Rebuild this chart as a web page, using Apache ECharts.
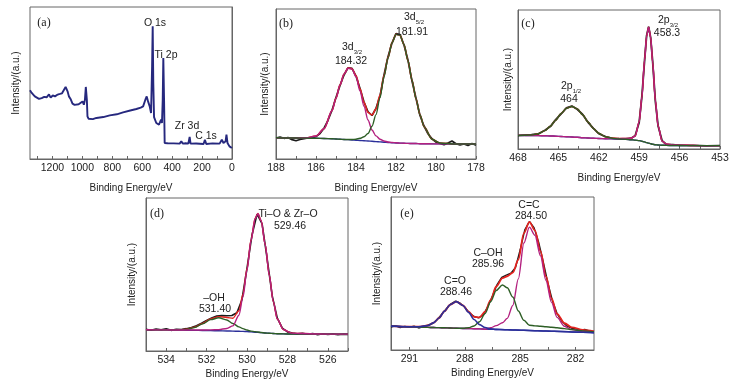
<!DOCTYPE html>
<html><head><meta charset="utf-8">
<script src="https://cdn.jsdelivr.net/npm/echarts@6/dist/echarts.min.js"></script>
<style>html,body{margin:0;padding:0;background:#fff}#c{width:734px;height:383px}</style>
</head><body><div id="c"></div>
<script>
// ---------- panel (a) survey ----------
const aBE = [1350,1340,1328,1318,1306,1290,1272,1255,1239,1223,1212,1198,1183,1165,1150,1136,1123,1112,1106,1099,1090,1079,1066,1052,1039,1025,1012,999,990,983,977,970,966,959,930,906,860,817,770,728,680,639,610,594,579,570,561,550,541,534,530,526,521,506,488,474,468,463,459,454,450,430,417,390,350,339,328,310,292,283,277,240,190,181,172,130,83,68,57,43,37,30,17,1];
const aInt = [45.2,43.6,42.8,41.2,40.8,39.6,40.1,40.9,40.6,42.5,40.4,41.8,41.2,42.4,42.8,43.2,43.9,47.4,48.5,44.5,41.2,39.5,36.4,35.6,35.1,36.0,36.4,37.9,35.7,39.0,47.4,39.0,28.1,26.5,26.2,27.0,27.6,28.7,29.4,30.7,31.9,32.9,33.8,34.6,39.0,41.2,37.9,34.6,30.3,61,87.3,50,27.6,23.7,22.6,25.9,23.7,39,66.4,39,10.5,10.4,10.1,10.3,10.1,11.6,10.1,10.4,10.1,14.5,10.1,10.2,9.9,12.7,9.9,10.3,10.1,12.7,10.5,11.6,16,10.5,8.3,7.2];
const aTicks = [0,100,200,300,400,500,600,700,800,900,1000,1100,1200,1300];
const aLabels = [0,200,400,600,800,1000,1200];

// ---------- panel (b) Zr 3d ----------
const bBE = [188,187,186.5,186,185.6,185.2,185,184.8,184.6,184.4,184.2,184,183.8,183.6,183.4,183.2,183,182.8,182.6,182.4,182.2,182,181.8,181.6,181.4,181.2,181,180.8,180.6,180.2,179.8,179,178];
const bBg = [14.2,14.0,13.9,13.8,13.7,13.5,13.3,13.2,13.0,12.9,12.7,12.5,12.3,12.2,12.0,11.8,11.6,11.4,11.2,11.0,10.8,10.7,10.6,10.5,10.4,10.3,10.3,10.2,10.2,10.1,10.1,10.0,10.0];
const b32 = [14.2,14.0,14.0,15.3,20.2,32.2,40.6,49.4,56.6,60.5,59.9,54.9,45.3,35.2,26.0,19.3,15.4,13.2,12.0,11.3,11.0,10.8,10.6,10.5,10.4,10.3,10.3,10.2,10.2,10.1,10.1,10.0,10.0];
const b52 = [14.2,14.0,13.9,13.8,13.7,13.5,13.3,13.2,13.0,13.0,13.0,13.2,13.8,14.8,17.0,21.8,29.6,40.9,54.8,67.3,77.5,83.1,82.6,76.3,65.5,52.6,40.1,29.5,21.6,13.2,10.7,10.0,10.0];
const bEnv = [14.2,14.0,14.0,15.3,20.2,32.2,40.6,49.4,56.6,60.6,60.2,55.6,46.8,37.8,31.0,29.3,33.4,42.7,55.6,67.6,77.7,83.2,82.6,76.3,65.5,52.6,40.1,29.5,21.6,13.2,10.7,10.0,10.0];
const bDataBE = [188,187.8,187.6,187.4,187.2,187,186.8,186.6,186.4,186.2,186,185.8,185.6,185.4,185.2,185,184.8,184.6,184.4,184.2,184,183.8,183.6,183.4,183.2,183,182.8,182.6,182.4,182.2,182,181.8,181.6,181.4,181.2,181,180.8,180.6,180.4,180.2,180,179.8,179.6,179.4,179.2,179,178.8,178.6,178.4,178.2,178];
const bData = [14.0,14.6,13.8,14.3,12.9,12.2,13.0,13.6,14.1,14.0,15.0,17.0,20.5,25.8,32.5,41.0,49.0,56.0,60.8,60.4,55.3,47.0,38.0,31.5,29.0,33.8,42.0,56.0,68.2,77.3,83.6,83.0,76.0,65.8,52.0,40.5,29.0,22.0,16.8,13.5,11.2,10.3,9.5,10.6,12.0,10.2,9.4,10.1,9.0,10.3,9.2];
const bTicks = [178,179,180,181,182,183,184,185,186,187,188];
const bLabels = [178,180,182,184,186,188];

// ---------- panel (c) Ti 2p ----------
const cBE = [468,467,466.5,466,465.6,465.2,464.8,464.4,464,463.6,463.2,462.8,462.4,462,461.5,461,460.5,460,459.6,459.3,459,458.8,458.6,458.45,458.3,458.15,458,457.8,457.6,457.3,457,456.5,456,455,454,453];
const cBg = [9.8,9.7,9.6,9.5,9.4,9.2,9.0,8.8,8.6,8.4,8.1,7.9,7.7,7.6,7.4,7.3,7.1,7.0,6.7,6.4,6.0,5.6,5.1,4.6,4.2,3.8,3.4,3.1,2.9,2.7,2.6,2.5,2.5,2.4,2.4,2.4];
const c12 = [9.8,10.1,11.0,13.2,16.4,20.8,25.5,29.3,30.6,28.9,24.6,19.5,14.7,11.3,8.8,7.7,7.2,7.0,6.7,6.4,6.0,5.6,5.1,4.6,4.2,3.8,3.4,3.1,2.9,2.7,2.6,2.5,2.5,2.4,2.4,2.4];
const c32 = [9.8,9.7,9.6,9.5,9.4,9.2,9.0,8.8,8.6,8.4,8.1,7.9,7.7,7.6,7.4,7.5,7.5,7.6,7.7,9.4,19.6,37.4,64.1,81.2,87.7,80.4,62.4,34.9,16.5,5.7,3.6,3.0,2.8,2.5,2.4,2.4];
const cEnv = [9.8,10.1,11.0,13.2,16.4,20.8,25.5,29.3,30.6,28.9,24.6,19.5,14.7,11.3,8.8,7.9,7.6,7.6,7.7,9.4,19.6,37.4,64.1,81.2,87.7,80.4,62.4,34.9,16.5,5.7,3.6,3.0,2.8,2.5,2.4,2.4];
const cData = [9.6,10.3,10.8,13.5,16.1,21.1,25.2,29.6,30.9,28.6,24.9,19.2,14.9,11.0,8.9,7.6,7.4,7.3,7.8,9.6,19.3,37.8,63.8,81.6,88.0,80.1,62.8,34.5,16.8,5.9,3.4,3.1,2.6,2.6,2.2,2.5];
const cTicks = [453,454.5,456,457.5,459,460.5,462,463.5,465,466.5,468];
const cLabels = [453,456,459,462,465,468];

// ---------- panel (d) O 1s ----------
const dBE = [535,534,533.5,533,532.6,532.2,531.8,531.4,531,530.7,530.4,530.2,530,529.8,529.6,529.46,529.3,529.1,528.9,528.7,528.5,528.2,527.8,527.3,526.5,525.5,525];
const dBg = [13.9,13.8,13.7,13.6,13.5,13.4,13.3,13.2,13.1,13.0,12.9,12.8,12.7,12.5,12.3,12.2,12.0,11.8,11.6,11.4,11.3,11.2,11.1,11.1,11.0,11.0,11.0];
const dOH = [13.9,13.8,13.8,14.1,15.3,17.7,20.5,21.7,20.3,18.0,15.8,14.6,13.7,13.0,12.6,12.4,12.1,11.8,11.6,11.4,11.3,11.2,11.1,11.1,11.0,11.0,11.0];
const dMain = [13.9,13.8,13.7,13.7,13.7,13.7,13.8,14.0,14.7,16.4,23.4,35.2,52.8,72.2,86.5,89.7,85.2,69.6,49.7,32.3,20.9,14.1,11.7,11.4,11.1,11.0,11.0];
const dEnv = [13.9,13.8,13.8,14.2,15.5,18.0,21.0,22.5,21.9,21.4,26.3,37.0,53.8,72.7,86.8,89.9,85.3,69.6,49.7,32.3,20.9,14.1,11.7,11.4,11.1,11.0,11.0];
const dDataBE = [535,534.75,534.5,534.25,534,533.75,533.5,533.25,533,532.75,532.5,532.25,532,531.75,531.5,531.25,531,530.75,530.5,530.25,530,529.75,529.5,529.25,529,528.75,528.5,528.25,528,527.75,527.5,527.25,527,526.75,526.5,526.25,526,525.75,525.5,525.25,525];
const dData = [14.2,13.6,14.4,13.9,14.5,13.5,14.2,14.0,14.6,15.4,16.5,18.2,20.0,21.6,22.8,23.2,23.0,23.2,25.0,33.5,54.0,76.0,89.5,83.0,60.0,36.0,21.5,15.0,12.5,11.8,11.2,11.6,10.9,11.4,10.7,11.3,10.8,11.2,10.6,11.0,10.8];
const dTicks = [525,526,527,528,529,530,531,532,533,534,535];
const dLabels = [526,528,530,532,534];

// ---------- panel (e) C 1s ----------
const eBE = [292,291,290.5,290,289.7,289.4,289.1,288.8,288.46,288.1,287.8,287.5,287.2,286.9,286.6,286.3,285.96,285.7,285.4,285.1,284.8,284.5,284.2,283.9,283.6,283.3,283,282.6,282.2,281.6,281];
const eBg = [15.6,15.2,15.0,14.8,14.7,14.6,14.5,14.4,14.2,14.1,14.0,13.9,13.8,13.6,13.5,13.4,13.3,13.2,13.1,13.0,12.9,12.7,12.6,12.5,12.4,12.3,12.2,12.0,11.8,11.6,11.3];
const eCO = [15.6,15.2,15.2,16.0,17.7,20.9,25.4,29.6,31.6,29.1,24.6,19.9,16.6,14.7,13.8,13.5,13.3,13.2,13.1,13.0,12.9,12.7,12.6,12.5,12.4,12.3,12.2,12.0,11.8,11.6,11.3];
const eCOH = [15.6,15.2,15.0,14.8,14.7,14.6,14.5,14.4,14.2,14.2,14.5,15.7,18.5,23.9,31.5,38.9,42.5,40.7,34.6,25.5,19.4,16.2,15.8,15.5,15.2,14.9,14.5,14.0,13.3,12.5,11.8];
const eCC = [15.6,15.2,15.0,14.8,14.7,14.6,14.5,14.4,14.2,14.1,14.0,13.9,13.8,13.6,14.5,15.9,17.8,20.7,29.1,46.5,69.9,80.3,75.0,61.6,45.3,31.1,21.3,15.5,13.3,12.2,11.6];
const eEnv = [15.6,15.2,15.2,16.0,17.7,20.9,25.4,29.6,31.6,29.2,25.1,21.7,21.3,25.0,32.8,41.5,47.0,48.2,50.6,59.0,76.4,83.8,78.2,64.6,48.1,33.7,23.6,17.5,14.8,13.1,12.1];
const eDataBE = [292,291.75,291.5,291.25,291,290.75,290.5,290.25,290,289.75,289.5,289.25,289,288.75,288.5,288.25,288,287.75,287.5,287.25,287,286.75,286.5,286.25,286,285.75,285.5,285.25,285,284.75,284.5,284.25,284,283.75,283.5,283.25,283,282.75,282.5,282.25,282,281.75,281.5,281.25,281];
const eData = [15.0,15.8,14.6,15.4,14.9,15.6,14.4,15.3,16.2,17.3,19.8,23.4,27.0,30.2,32.0,30.6,28.0,24.3,21.9,21.0,23.0,28.5,35.5,42.8,47.5,49.0,50.2,54.0,65.5,78.5,84.0,80.0,70.5,57.5,43.8,32.0,23.8,19.0,16.0,14.4,13.8,13.0,13.4,12.5,12.2];
const eTicks = [282,283.5,285,286.5,288,289.5,291];
const eLabels = [282,285,288,291];

// ---------- styling ----------
const FONT = 'Liberation Sans, Arial, sans-serif';
const SERIF = 'Liberation Serif, Times New Roman, serif';
const FRAME = '#666';
const TXT = '#222';
const C_BLACK = '#1a1a1a', C_RED = '#e3231f', C_MAG = '#b3207f', C_GRN = '#2d5e25', C_BLUE = '#2b2f9a', C_NAVY = '#26287e';

const grids = [
  {left:30, top:7, width:202, height:152},
  {left:276, top:9, width:200, height:150},
  {left:518, top:10, width:202, height:139},
  {left:146, top:198, width:202, height:153},
  {left:391, top:197, width:203, height:153}
];
const xRanges = [[0,1350,aTicks,aLabels,24],[178,188,bTicks,bLabels,24],[453,468,cTicks,cLabels,24],[525,535,dTicks,dLabels,18],[281,292,eTicks,eLabels,18]];
const yGaps = [9,6,5,9,9];

function zip(xs, ys){ return xs.map((x,i)=>[x, ys[i]]); }
function line(gi, xs, ys, color, width, z, smooth){
  return {type:'line', xAxisIndex:gi, yAxisIndex:gi, data:zip(xs,ys), symbol:'none', showSymbol:false,
    smooth: smooth ? 0.3 : false, smoothMonotone: smooth ? 'x' : undefined,
    lineStyle:{color:color, width:width}, itemStyle:{color:color}, z:z, silent:true, animation:false};
}

const option = {
  animation:false,
  backgroundColor:'#fff',
  grid: grids.map(g=>Object.assign({show:true, borderColor:FRAME, borderWidth:1, backgroundColor:'transparent'}, g)),
  xAxis: xRanges.map((r,i)=>({
    type:'value', gridIndex:i, min:r[0], max:r[1], inverse:true,
    name:'Binding Energy/eV', nameLocation:'middle', nameGap:r[4],
    nameTextStyle:{fontSize:10, color:TXT, fontFamily:FONT},
    axisLine:{show:true, lineStyle:{color:FRAME, width:1}},
    axisTick:{show:true, inside:true, length:3, customValues:r[2], lineStyle:{color:FRAME}},
    axisLabel:{show:true, customValues:r[3], fontSize:10.5, color:TXT, fontFamily:FONT, margin:4, formatter:v=>String(v)},
    splitLine:{show:false}
  })),
  yAxis: grids.map((g,i)=>({
    type:'value', gridIndex:i, min:0, max:100,
    name:'Intensity/(a.u.)', nameLocation:'middle', nameGap:yGaps[i],
    nameTextStyle:{fontSize:10, color:TXT, fontFamily:FONT},
    axisLine:{show:true, lineStyle:{color:FRAME, width:1}},
    axisTick:{show:false}, axisLabel:{show:false}, splitLine:{show:false}
  })),
  series: [
    line(0, aBE, aInt, C_NAVY, 1.9, 5, false),

    line(1, bDataBE, bData, C_BLACK, 1.7, 2, false),
    line(1, bBE, bEnv, C_RED, 1.6, 3, true),
    line(1, bBE, bBg, C_BLUE, 1.4, 4, true),
    line(1, bBE, b32, C_MAG, 1.4, 5, true),
    line(1, bBE, b52, C_GRN, 1.4, 6, true),

    line(2, cBE, cData, C_BLACK, 1.8, 2, false),
    line(2, cBE, cEnv, C_RED, 1.4, 3, true),
    line(2, cBE, cBg, C_BLUE, 1.4, 4, true),
    line(2, cBE, c32, C_MAG, 1.4, 5, true),
    line(2, cBE, c12, C_GRN, 1.4, 6, true),

    line(3, dDataBE, dData, C_BLACK, 1.6, 2, false),
    line(3, dBE, dEnv, C_RED, 1.4, 3, true),
    line(3, dBE, dBg, C_BLUE, 1.4, 4, true),
    line(3, dBE, dOH, C_GRN, 1.4, 5, true),
    line(3, dBE, dMain, C_MAG, 1.4, 6, true),

    line(4, eDataBE, eData, C_BLACK, 1.4, 2, false),
    line(4, eBE, eEnv, C_RED, 1.8, 3, true),
    line(4, eBE, eBg, C_BLUE, 1.4, 4, true),
    line(4, eBE, eCC, C_MAG, 1.4, 5, true),
    line(4, eBE, eCOH, C_GRN, 1.4, 6, true),
    line(4, eBE, eCO, C_BLUE, 1.6, 7, true)
  ],
  graphic: []
};

function txt(x, y, t, size, fam){
  return {type:'text', x:x, y:y, z:100, silent:true,
    style:{text:t, fontSize:size||10.5, fontFamily:fam||FONT, fill:TXT, align:'center', verticalAlign:'middle'}};
}
function sub(x, y, main, s){
  return {type:'text', x:x, y:y, z:100, silent:true,
    style:{text:'{m|'+main+'}{s|'+s+'}', align:'center', verticalAlign:'middle', fill:TXT,
      rich:{m:{fontSize:10.5, fontFamily:FONT, fill:TXT, lineHeight:12, verticalAlign:'bottom'},
            s:{fontSize:6, fontFamily:FONT, fill:TXT, lineHeight:12, verticalAlign:'bottom', padding:[0,0,-2,0]}}}};
}
option.graphic = [
  txt(44,23,'(a)',12,SERIF), txt(155,23,'O 1s'), txt(166,55,'Ti 2p'), txt(187,126,'Zr 3d'), txt(206,136,'C 1s'),
  txt(286,24,'(b)',12,SERIF), sub(352,47,'3d','3/2'), txt(351,61,'184.32'), sub(414,17,'3d','5/2'), txt(412,32,'181.91'),
  txt(528,24,'(c)',12,SERIF), sub(668,20,'2p','3/2'), txt(667,33,'458.3'), sub(571,86,'2p','1/2'), txt(569,99,'464'),
  txt(157,214,'(d)',12,SERIF), txt(288,214,'Ti\u2013O & Zr\u2013O'), txt(290,226,'529.46'), txt(214,298,'\u2013OH'), txt(215,309,'531.40'),
  txt(407,214,'(e)',12,SERIF), txt(529,205,'C=C'), txt(531,216,'284.50'), txt(488,253,'C\u2013OH'), txt(488,264,'285.96'), txt(455,281,'C=O'), txt(456,292,'288.46')
];

const chart = echarts.init(document.getElementById('c'), null, {renderer:'canvas'});
chart.setOption(option);
</script>
</body></html>
